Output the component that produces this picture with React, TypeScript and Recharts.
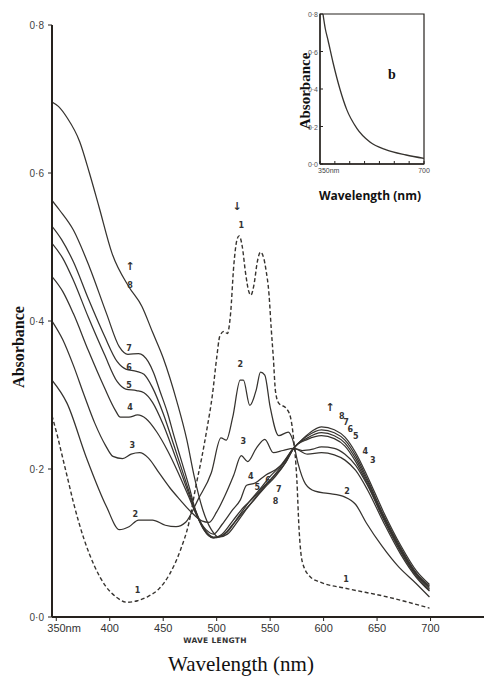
import { LineChart, Line, XAxis, YAxis, ReferenceDot, ReferenceArea } from 'recharts';

type Pt = [number, number];

// wavelength (nm), absorbance
const CURVE_1: Pt[] = [
  [346, 0.272], [351, 0.245], [356, 0.215], [361, 0.185], [366, 0.155], [376, 0.105],
  [386, 0.068], [396, 0.042], [406, 0.027], [416, 0.02], [426, 0.022], [436, 0.028],
  [446, 0.038], [456, 0.058], [466, 0.09], [474, 0.127], [481, 0.18], [486, 0.215],
  [491, 0.255], [496, 0.3], [500, 0.35], [503, 0.38], [507, 0.386], [510, 0.383],
  [513, 0.41], [516, 0.475], [519, 0.51], [521, 0.515], [524, 0.5], [527, 0.465],
  [530, 0.44], [532, 0.435], [535, 0.45], [538, 0.48], [541, 0.493], [544, 0.485],
  [546, 0.47], [549, 0.435], [551, 0.39], [553, 0.35], [555, 0.305], [558, 0.289],
  [565, 0.282], [569, 0.27], [572, 0.24], [575, 0.185], [577, 0.12], [580, 0.075],
  [587, 0.055], [597, 0.047], [620, 0.039], [660, 0.027], [699, 0.012],
];

const CURVE_2: Pt[] = [
  [346, 0.32], [360, 0.289], [378, 0.216], [397, 0.149], [409, 0.118], [418, 0.122],
  [427, 0.131], [440, 0.131], [452, 0.124], [462, 0.122], [471, 0.128], [483, 0.16],
  [495, 0.195], [504, 0.242], [509, 0.239], [515, 0.27], [522, 0.32], [525, 0.32],
  [531, 0.286], [537, 0.307], [541, 0.331], [545, 0.327], [550, 0.284], [558, 0.245],
  [567, 0.25], [571, 0.24], [576, 0.208], [583, 0.18], [592, 0.17], [604, 0.167],
  [620, 0.162], [630, 0.152], [640, 0.127], [655, 0.095], [670, 0.068], [686, 0.046],
  [699, 0.027],
];

const CURVE_3: Pt[] = [
  [346, 0.4], [356, 0.375], [366, 0.34], [376, 0.3], [386, 0.262], [396, 0.232],
  [403, 0.217], [412, 0.214], [420, 0.22], [428, 0.222], [436, 0.215], [446, 0.195],
  [456, 0.175], [466, 0.158], [476, 0.142], [486, 0.13], [493, 0.128], [500, 0.142],
  [508, 0.165], [516, 0.192], [523, 0.218], [529, 0.21], [537, 0.228], [545, 0.24],
  [553, 0.222], [562, 0.225], [572, 0.228], [585, 0.22], [598, 0.222], [610, 0.219],
  [620, 0.212], [630, 0.198], [641, 0.172], [656, 0.128], [672, 0.085], [687, 0.053],
  [699, 0.035],
];

const CURVE_4: Pt[] = [
  [346, 0.46], [356, 0.44], [366, 0.41], [380, 0.36], [395, 0.31], [405, 0.28],
  [410, 0.27], [418, 0.27], [426, 0.273], [434, 0.268], [444, 0.25], [454, 0.225],
  [464, 0.195], [474, 0.162], [482, 0.135], [490, 0.118], [497, 0.112], [505, 0.125],
  [515, 0.145], [522, 0.158], [528, 0.178], [536, 0.181], [546, 0.192], [555, 0.199],
  [565, 0.212], [572, 0.228], [580, 0.225], [590, 0.227], [598, 0.23], [610, 0.228],
  [620, 0.22], [630, 0.205], [641, 0.178], [656, 0.132], [672, 0.088], [687, 0.055],
  [699, 0.036],
];

const CURVE_5: Pt[] = [
  [346, 0.505], [356, 0.485], [366, 0.455], [380, 0.405], [395, 0.355], [407, 0.318],
  [415, 0.308], [425, 0.306], [432, 0.303], [440, 0.29], [450, 0.26], [460, 0.222],
  [470, 0.182], [480, 0.143], [488, 0.118], [497, 0.107], [505, 0.112], [515, 0.13],
  [525, 0.148], [535, 0.162], [545, 0.178], [555, 0.192], [565, 0.21], [572, 0.228],
  [585, 0.24], [598, 0.245], [610, 0.241], [620, 0.231], [630, 0.21], [641, 0.18],
  [656, 0.134], [672, 0.09], [687, 0.057], [699, 0.038],
];

const CURVE_6: Pt[] = [
  [346, 0.528], [355, 0.51], [366, 0.48], [380, 0.43], [395, 0.38], [407, 0.345],
  [415, 0.335], [425, 0.332], [432, 0.328], [440, 0.31], [450, 0.275], [460, 0.232],
  [470, 0.188], [480, 0.145], [488, 0.12], [497, 0.108], [505, 0.11], [515, 0.125],
  [525, 0.142], [535, 0.158], [545, 0.175], [555, 0.19], [565, 0.21], [572, 0.228],
  [585, 0.242], [598, 0.249], [610, 0.245], [620, 0.235], [630, 0.214], [641, 0.183],
  [656, 0.136], [672, 0.092], [687, 0.058], [699, 0.04],
];

const CURVE_7: Pt[] = [
  [346, 0.563], [353, 0.55], [366, 0.523], [381, 0.473], [397, 0.41], [409, 0.365],
  [417, 0.355], [427, 0.356], [436, 0.345], [441, 0.33], [447, 0.305], [454, 0.276],
  [460, 0.245], [466, 0.216], [475, 0.172], [480, 0.145], [488, 0.118], [497, 0.107],
  [510, 0.115], [520, 0.135], [530, 0.155], [540, 0.172], [550, 0.19], [560, 0.205],
  [572, 0.228], [585, 0.245], [598, 0.253], [610, 0.249], [620, 0.239], [630, 0.218],
  [641, 0.186], [656, 0.138], [672, 0.094], [687, 0.059], [699, 0.042],
];

const CURVE_8: Pt[] = [
  [346, 0.696], [352, 0.69], [360, 0.675], [372, 0.642], [381, 0.6], [390, 0.554],
  [402, 0.492], [418, 0.446], [430, 0.42], [440, 0.385], [450, 0.35], [463, 0.29],
  [472, 0.24], [479, 0.19], [487, 0.145], [495, 0.118], [502, 0.108], [510, 0.112],
  [520, 0.13], [530, 0.15], [540, 0.168], [550, 0.185], [560, 0.203], [572, 0.228],
  [580, 0.24], [590, 0.252], [598, 0.257], [610, 0.253], [620, 0.243], [630, 0.222],
  [641, 0.19], [656, 0.142], [672, 0.097], [687, 0.062], [699, 0.044],
];

// inset (b)
const INSET_CURVE: Pt[] = [
  [360, 0.8], [368, 0.72], [377, 0.66], [394, 0.54], [417, 0.4], [440, 0.29],
  [474, 0.19], [518, 0.117], [573, 0.075], [640, 0.048], [700, 0.03],
];

const MAIN_X_TICKS = [350, 400, 450, 500, 550, 600, 650, 700];
const MAIN_Y_TICKS = [0, 0.2, 0.4, 0.6, 0.8];
const INSET_X_TICKS = [350, 400, 450, 500, 550, 600, 650, 700];
const INSET_Y_TICKS = [0, 0.2, 0.4, 0.6, 0.8];

const CURVE_LABELS: { nm: number; abs: number; text: string }[] = [
  { nm: 519, abs: 0.555, text: '↓' },
  { nm: 523, abs: 0.53, text: '1' },
  { nm: 426, abs: 0.036, text: '1' },
  { nm: 621, abs: 0.052, text: '1' },
  { nm: 424, abs: 0.139, text: '2' },
  { nm: 522, abs: 0.342, text: '2' },
  { nm: 622, abs: 0.17, text: '2' },
  { nm: 421, abs: 0.233, text: '3' },
  { nm: 525, abs: 0.238, text: '3' },
  { nm: 646, abs: 0.212, text: '3' },
  { nm: 419, abs: 0.284, text: '4' },
  { nm: 532, abs: 0.19, text: '4' },
  { nm: 639, abs: 0.224, text: '4' },
  { nm: 418, abs: 0.313, text: '5' },
  { nm: 538, abs: 0.176, text: '5' },
  { nm: 630, abs: 0.244, text: '5' },
  { nm: 418, abs: 0.338, text: '6' },
  { nm: 548, abs: 0.185, text: '6' },
  { nm: 625, abs: 0.254, text: '6' },
  { nm: 418, abs: 0.364, text: '7' },
  { nm: 558, abs: 0.173, text: '7' },
  { nm: 621, abs: 0.263, text: '7' },
  { nm: 419, abs: 0.448, text: '8' },
  { nm: 555, abs: 0.157, text: '8' },
  { nm: 617, abs: 0.272, text: '8' },
  { nm: 419, abs: 0.474, text: '↑' },
  { nm: 606, abs: 0.284, text: '↑' },
];

const CURVES = [
  { id: 'c1', points: CURVE_1, dashed: true },
  { id: 'c2', points: CURVE_2, dashed: false },
  { id: 'c3', points: CURVE_3, dashed: false },
  { id: 'c4', points: CURVE_4, dashed: false },
  { id: 'c5', points: CURVE_5, dashed: false },
  { id: 'c6', points: CURVE_6, dashed: false },
  { id: 'c7', points: CURVE_7, dashed: false },
  { id: 'c8', points: CURVE_8, dashed: false },
];

const INK = '#36332f';
const AXIS = '#26221e';

const toRows = (pts: Pt[]) => pts.map(([nm, a]) => ({ nm, a }));
const fmtAbs = (v: number) => v.toFixed(1).replace('.', '·');

function MainXTick({ x, y, payload }: any) {
  const v = payload.value;
  const style = { fontFamily: 'Liberation Sans, sans-serif', fontSize: 11, fill: '#333' };
  if (v === 350) {
    return (
      <text x={x - 9} y={y} dy={9} textAnchor="start" style={style}>
        350nm
      </text>
    );
  }
  return (
    <text x={x} y={y} dy={9} textAnchor="middle" style={style}>
      {v}
    </text>
  );
}

// inset ticks point inward; tickSize is 0 so the axis sits tickMargin away
function InsetXTick({ x, y, payload }: any) {
  const axisY = y - 3;
  const v = payload.value;
  const style = { fontFamily: 'Liberation Sans, sans-serif', fontSize: 7, fill: '#444' };
  return (
    <g>
      <line x1={x} x2={x} y1={axisY} y2={axisY - 3} stroke={AXIS} strokeWidth={1} />
      {v === 350 && (
        <text x={x - 2} y={y} dy={6} textAnchor="start" style={style}>
          350nm
        </text>
      )}
      {v === 700 && (
        <text x={x} y={y} dy={6} textAnchor="middle" style={style}>
          700
        </text>
      )}
    </g>
  );
}

function InsetYTick({ x, y, payload }: any) {
  const axisX = x + 2;
  return (
    <g>
      <line x1={axisX} x2={axisX + 3} y1={y} y2={y} stroke={AXIS} strokeWidth={1} />
      <text
        x={x}
        y={y}
        dy={3}
        textAnchor="end"
        style={{ fontFamily: 'Liberation Sans, sans-serif', fontSize: 7, fill: '#555' }}
      >
        {fmtAbs(payload.value)}
      </text>
    </g>
  );
}

function CurveLabel(text: string) {
  const isArrow = text === '↑' || text === '↓';
  return (props: any) => (
    <text
      x={props.cx}
      y={props.cy}
      dy={isArrow ? 4 : 3}
      textAnchor="middle"
      style={{
        fontFamily: 'DejaVu Sans, sans-serif',
        fontSize: isArrow ? 11 : 8,
        fontWeight: 700,
        fill: '#333',
      }}
    >
      {text}
    </text>
  );
}

export default function App() {
  return (
    <div
      style={{
        position: 'absolute',
        left: 0,
        top: 0,
        width: 484,
        height: 683,
        background: '#fff',
        overflow: 'hidden',
      }}
    >
      <div style={{ position: 'absolute', left: 0, top: 0 }}>
        <LineChart width={484} height={683} margin={{ top: 25, right: 0, bottom: 0, left: 0 }}>
          <XAxis
            dataKey="nm"
            type="number"
            domain={[346, 750]}
            ticks={MAIN_X_TICKS}
            interval={0}
            allowDataOverflow
            height={66}
            tickSize={4}
            tickMargin={2}
            tick={<MainXTick />}
            axisLine={{ stroke: AXIS, strokeWidth: 1.8 }}
            tickLine={{ stroke: AXIS, strokeWidth: 1 }}
          />
          <YAxis
            type="number"
            domain={[0, 0.8]}
            ticks={MAIN_Y_TICKS}
            interval={0}
            allowDataOverflow
            width={52}
            tickSize={4}
            tickMargin={4}
            tickFormatter={fmtAbs}
            tick={{ fontFamily: 'Liberation Sans, sans-serif', fontSize: 10, fill: '#444' }}
            axisLine={{ stroke: AXIS, strokeWidth: 2 }}
            tickLine={{ stroke: AXIS, strokeWidth: 1 }}
          />
          {CURVES.map((c) => (
            <Line
              key={c.id}
              data={toRows(c.points)}
              dataKey="a"
              type="monotone"
              stroke={INK}
              strokeWidth={c.dashed ? 1.4 : 1.25}
              strokeDasharray={c.dashed ? '4 2.5' : undefined}
              dot={false}
              activeDot={false}
              isAnimationActive={false}
            />
          ))}
          {CURVE_LABELS.map((l, i) => (
            <ReferenceDot
              key={`lbl-${i}`}
              x={l.nm}
              y={l.abs}
              r={3}
              shape={CurveLabel(l.text)}
            />
          ))}
        </LineChart>
      </div>

      {/* inset b */}
      <div style={{ position: 'absolute', left: 280, top: 0 }}>
        <LineChart width={200} height={210} margin={{ top: 14, right: 56, bottom: 0, left: 0 }}>
          <XAxis
            dataKey="nm"
            type="number"
            domain={[350, 700]}
            ticks={INSET_X_TICKS}
            interval={0}
            allowDataOverflow
            height={46}
            tickSize={0}
            tickMargin={3}
            tick={<InsetXTick />}
            tickLine={false}
            axisLine={{ stroke: AXIS, strokeWidth: 1.3 }}
          />
          <YAxis
            type="number"
            domain={[0, 0.8]}
            ticks={INSET_Y_TICKS}
            interval={0}
            allowDataOverflow
            width={40}
            tickSize={0}
            tickMargin={2}
            tick={<InsetYTick />}
            tickLine={false}
            axisLine={{ stroke: AXIS, strokeWidth: 1.3 }}
          />
          <ReferenceArea
            x1={350}
            x2={700}
            y1={0}
            y2={0.8}
            fill="none"
            fillOpacity={0}
            stroke={AXIS}
            strokeWidth={1.2}
            ifOverflow="visible"
          />
          <Line
            data={toRows(INSET_CURVE)}
            dataKey="a"
            type="monotone"
            stroke={INK}
            strokeWidth={1.3}
            dot={false}
            activeDot={false}
            isAnimationActive={false}
          />
        </LineChart>
      </div>

      <div
        style={{
          position: 'absolute',
          left: 305,
          top: 91,
          transform: 'translate(-50%, -50%) rotate(-90deg)',
          fontFamily: 'Liberation Serif, serif',
          fontWeight: 700,
          fontSize: 15,
          color: '#111',
          whiteSpace: 'nowrap',
        }}
      >
        Absorbance
      </div>
      <div
        style={{
          position: 'absolute',
          left: 388,
          top: 67,
          fontFamily: 'Liberation Serif, serif',
          fontWeight: 700,
          fontSize: 14,
          color: '#111',
        }}
      >
        b
      </div>
      <div
        style={{
          position: 'absolute',
          left: 370,
          top: 195,
          transform: 'translate(-50%, -50%)',
          fontFamily: 'Open Sans, sans-serif',
          fontWeight: 700,
          fontSize: 12,
          color: '#111',
          whiteSpace: 'nowrap',
        }}
      >
        Wavelength (nm)
      </div>

      <div
        style={{
          position: 'absolute',
          left: 19,
          top: 347,
          transform: 'translate(-50%, -50%) rotate(-90deg)',
          fontFamily: 'Liberation Serif, serif',
          fontWeight: 700,
          fontSize: 16,
          color: '#111',
          whiteSpace: 'nowrap',
        }}
      >
        Absorbance
      </div>
      <div
        style={{
          position: 'absolute',
          left: 215,
          top: 640,
          transform: 'translate(-50%, -50%)',
          fontFamily: 'DejaVu Sans, sans-serif',
          fontWeight: 700,
          fontSize: 7.5,
          letterSpacing: 0.3,
          color: '#333',
          whiteSpace: 'nowrap',
        }}
      >
        WAVE LENGTH
      </div>
      <div
        style={{
          position: 'absolute',
          left: 241,
          top: 664,
          transform: 'translate(-50%, -50%)',
          fontFamily: 'Liberation Serif, serif',
          fontSize: 21,
          color: '#111',
          whiteSpace: 'nowrap',
        }}
      >
        Wavelength (nm)
      </div>
    </div>
  );
}
